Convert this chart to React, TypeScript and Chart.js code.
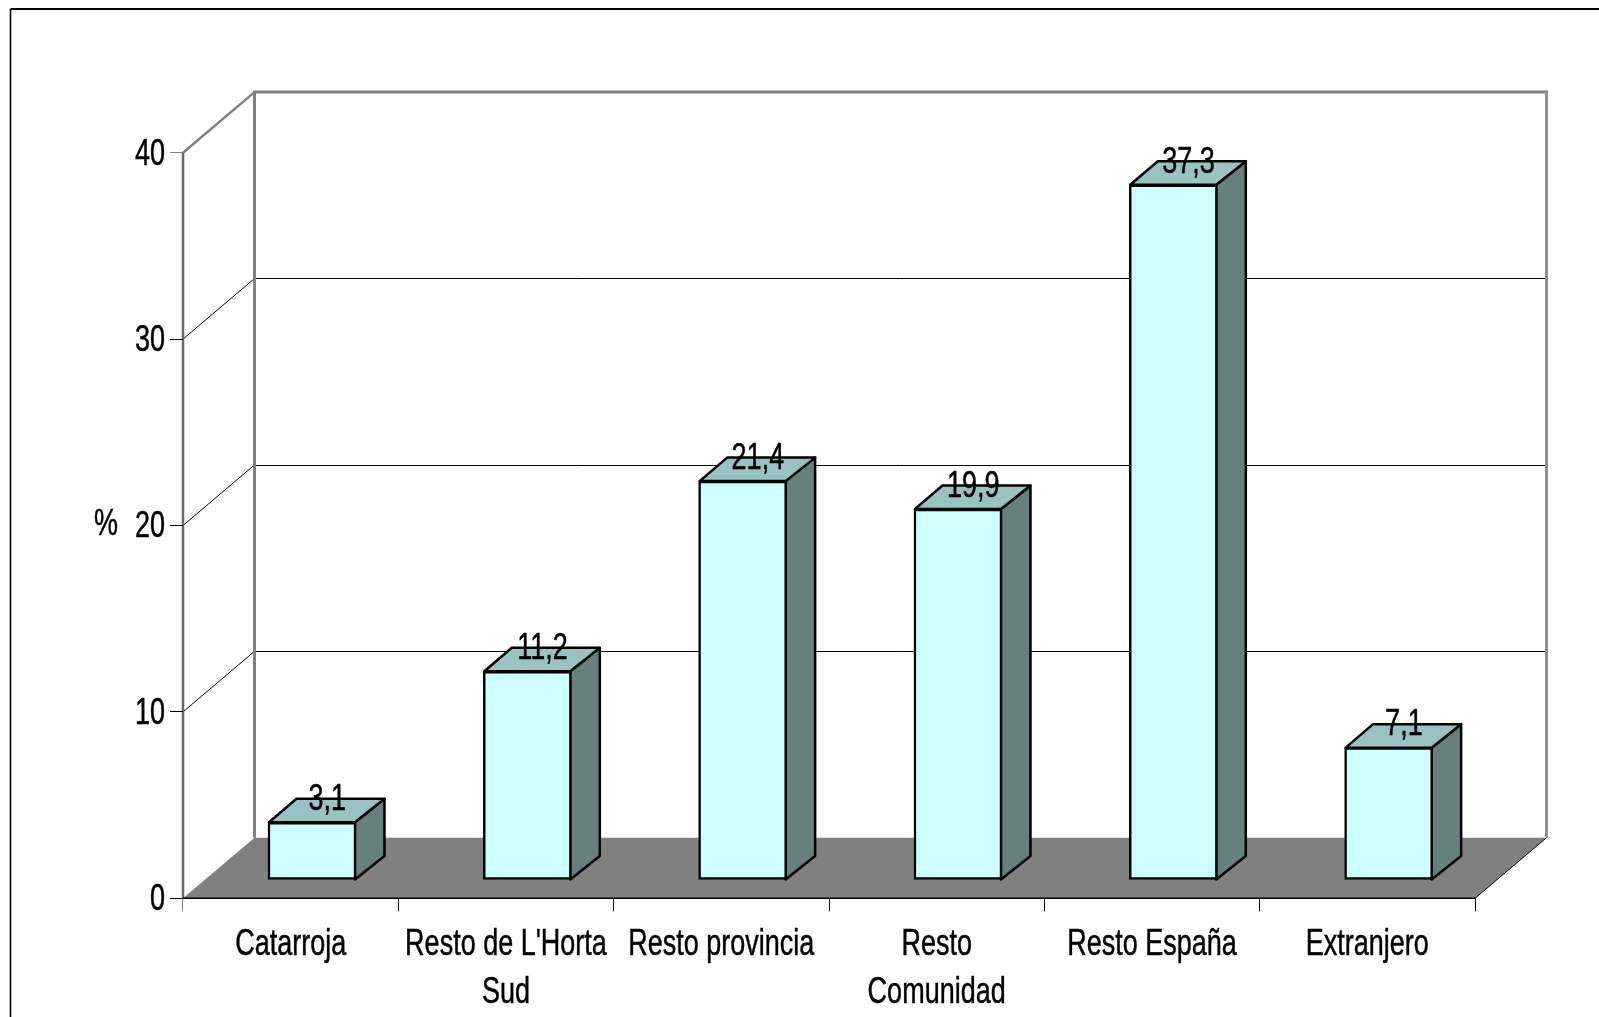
import React, { useEffect, useRef } from "react";
import { Chart, registerables } from "chart.js";

Chart.register(...registerables);

const categories: (string | string[])[] = [
  "Catarroja",
  ["Resto de L'Horta", "Sud"],
  "Resto provincia",
  ["Resto", "Comunidad"],
  "Resto España",
  "Extranjero",
];
const values = [3.1, 11.2, 21.4, 19.9, 37.3, 7.1];
const valueLabels = ["3,1", "11,2", "21,4", "19,9", "37,3", "7,1"];
const axisUnit = "%";

const FONT_FAMILY = "'Liberation Sans', Arial, sans-serif";
const FONT_SIZE = 37.5;
const SQUEEZE = 0.72;
const TEXT_DY = 1.5;
const WALL_DX = 71.5;
const WALL_DY = 60.6;
const BAR_SHIFT_X = 21.3;
const BAR_SHIFT_Y = 18.3;
const BAR_DX = 28.5;
const BAR_DY = 23.5;
const GRAY = "#808080";

function poly(ctx: CanvasRenderingContext2D, pts: number[][]) {
  ctx.beginPath();
  pts.forEach(([x, y], i) => (i ? ctx.lineTo(x, y) : ctx.moveTo(x, y)));
  ctx.closePath();
}
function line(ctx: CanvasRenderingContext2D, x1: number, y1: number, x2: number, y2: number, color: string, w: number) {
  ctx.strokeStyle = color;
  ctx.lineWidth = w;
  ctx.beginPath();
  ctx.moveTo(x1, y1);
  ctx.lineTo(x2, y2);
  ctx.stroke();
}
const edgeTick = (c: any) => (c.index === 0 || c.index === categories.length ? GRAY : "#000");

const box3d = {
  id: "box3d",
  beforeDraw(chart: any) {
    const { ctx, chartArea: a, scales } = chart;
    // The text of the original is a tall, horizontally condensed face.
    const original = ctx.fillText;
    ctx.fillText = function (text: string, x: number, y: number) {
      ctx.save();
      ctx.translate(x, y + TEXT_DY);
      ctx.scale(SQUEEZE, 1);
      ctx.strokeStyle = "#000";
      ctx.lineWidth = 0.5;
      ctx.strokeText(text, 0, 0);
      original.call(ctx, text, 0, 0);
      ctx.restore();
    };
    ctx.save();
    line(ctx, 10.5, 1017, 10.5, 9, "#000", 1.6);
    line(ctx, 10.5, 9, 1599, 9, "#000", 2);
    // floor
    ctx.fillStyle = GRAY;
    poly(ctx, [
      [a.left, a.bottom],
      [a.right, a.bottom],
      [a.right + WALL_DX, a.bottom - WALL_DY],
      [a.left + WALL_DX, a.bottom - WALL_DY],
    ]);
    ctx.fill();
    // wall grid lines and side diagonals
    for (const t of scales.y.ticks) {
      const y = scales.y.getPixelForValue(t.value);
      if (t.value > 0 && t.value < scales.y.max) {
        const by = Math.round(y - WALL_DY) + 0.5;
        line(ctx, a.left + WALL_DX, by, a.right + WALL_DX, by, "#000", 1);
        line(ctx, a.left, y, a.left + WALL_DX, y - WALL_DY, "#000", 1);
      }
    }
    // wall frames
    line(ctx, a.left, a.top, a.left + WALL_DX, a.top - WALL_DY, GRAY, 2.5);
    line(ctx, a.left + WALL_DX, a.top - WALL_DY, a.left + WALL_DX, a.bottom - WALL_DY, GRAY, 3);
    line(ctx, a.left + WALL_DX - 1.5, a.top - WALL_DY, a.right + WALL_DX + 1.5, a.top - WALL_DY, GRAY, 3);
    line(ctx, a.right + WALL_DX, a.top - WALL_DY, a.right + WALL_DX, a.bottom - WALL_DY, "#909090", 3);
    line(ctx, a.left, a.top, a.left, a.bottom, "#6a6a6a", 2.5);
    // floor edges
    line(ctx, a.right, a.bottom, a.right + WALL_DX, a.bottom - WALL_DY, "#000", 1);
    line(ctx, a.left, a.bottom, a.right, a.bottom, "#000", 1.5);
    ctx.restore();
    // unit label
    ctx.save();
    ctx.fillStyle = "#000";
    ctx.font = `${FONT_SIZE}px ${FONT_FAMILY}`;
    ctx.textAlign = "center";
    ctx.textBaseline = "middle";
    ctx.fillText(axisUnit, 106, 523);
    ctx.restore();
  },
  beforeDatasetsDraw(chart: any) {
    const { ctx } = chart;
    ctx.save();
    ctx.translate(BAR_SHIFT_X, -BAR_SHIFT_Y);
    ctx.lineWidth = 2.5;
    ctx.strokeStyle = "#000";
    ctx.lineJoin = "round";
    for (const el of chart.getDatasetMeta(0).data) {
      const l = el.x - el.width / 2;
      const r = el.x + el.width / 2;
      const t = el.y;
      const b = el.base;
      ctx.fillStyle = "#668080";
      poly(ctx, [[r - 1, t], [r + BAR_DX, t - BAR_DY], [r + BAR_DX, b - BAR_DY], [r - 1, b]]);
      ctx.fill();
      ctx.stroke();
      ctx.fillStyle = "#99C2C2";
      poly(ctx, [[l + 1, t], [l + BAR_DX, t - BAR_DY], [r + BAR_DX, t - BAR_DY], [r - 1, t]]);
      ctx.fill();
      ctx.stroke();
    }
  },
  afterDatasetsDraw(chart: any) {
    const { ctx } = chart;
    ctx.fillStyle = "#000";
    ctx.font = `${FONT_SIZE}px ${FONT_FAMILY}`;
    ctx.textAlign = "center";
    ctx.textBaseline = "middle";
    chart.getDatasetMeta(0).data.forEach((el: any, i: number) => {
      ctx.fillText(valueLabels[i], el.x + BAR_DX / 2 + 1, el.y - 24);
    });
    ctx.restore();
  },
  afterDraw(chart: any) {
    delete chart.ctx.fillText;
  },
};

export default function App() {
  const ref = useRef<HTMLCanvasElement>(null);
  useEffect(() => {
    const chart = new Chart(ref.current!, {
      type: "bar",
      data: {
        labels: categories as any,
        datasets: [
          {
            data: values,
            backgroundColor: "#CCFFFF",
            borderColor: "#000",
            borderWidth: 2.5,
            borderSkipped: false,
            barThickness: 88,
          },
        ],
      },
      options: {
        animation: false,
        responsive: false,
        devicePixelRatio: 1,
        layout: { padding: { top: 152.7, right: 124, left: 0, bottom: 0 } },
        plugins: { legend: { display: false }, title: { display: false }, tooltip: { enabled: false } },
        scales: {
          x: {
            grid: { drawOnChartArea: false, drawTicks: true, tickLength: 13, tickColor: edgeTick, offset: true },
            border: { display: false },
            ticks: {
              color: "#000",
              padding: 8,
              maxRotation: 0,
              minRotation: 0,
              autoSkip: false,
              font: { family: FONT_FAMILY, size: FONT_SIZE, lineHeight: 1.27 },
            },
            afterFit: (s: any) => {
              s.height = 118.7;
            },
          },
          y: {
            min: 0,
            max: 40,
            grid: {
              drawOnChartArea: false,
              drawTicks: true,
              tickLength: 13,
              tickColor: (c: any) => (c.tick && c.tick.value === 40 ? GRAY : "#000"),
            },
            border: { display: false },
            ticks: {
              stepSize: 10,
              color: "#000",
              padding: 5,
              font: { family: FONT_FAMILY, size: FONT_SIZE },
            },
            afterFit: (s: any) => {
              s.width = 183;
            },
          },
        },
      },
      plugins: [box3d],
    } as any);
    return () => chart.destroy();
  }, []);
  return (
    <div style={{ position: "absolute", left: 0, top: 0, width: 1599, height: 1017, background: "#fff", overflow: "hidden" }}>
      <canvas ref={ref} width={1599} height={1017} style={{ display: "block", width: 1599, height: 1017 }} />
    </div>
  );
}
